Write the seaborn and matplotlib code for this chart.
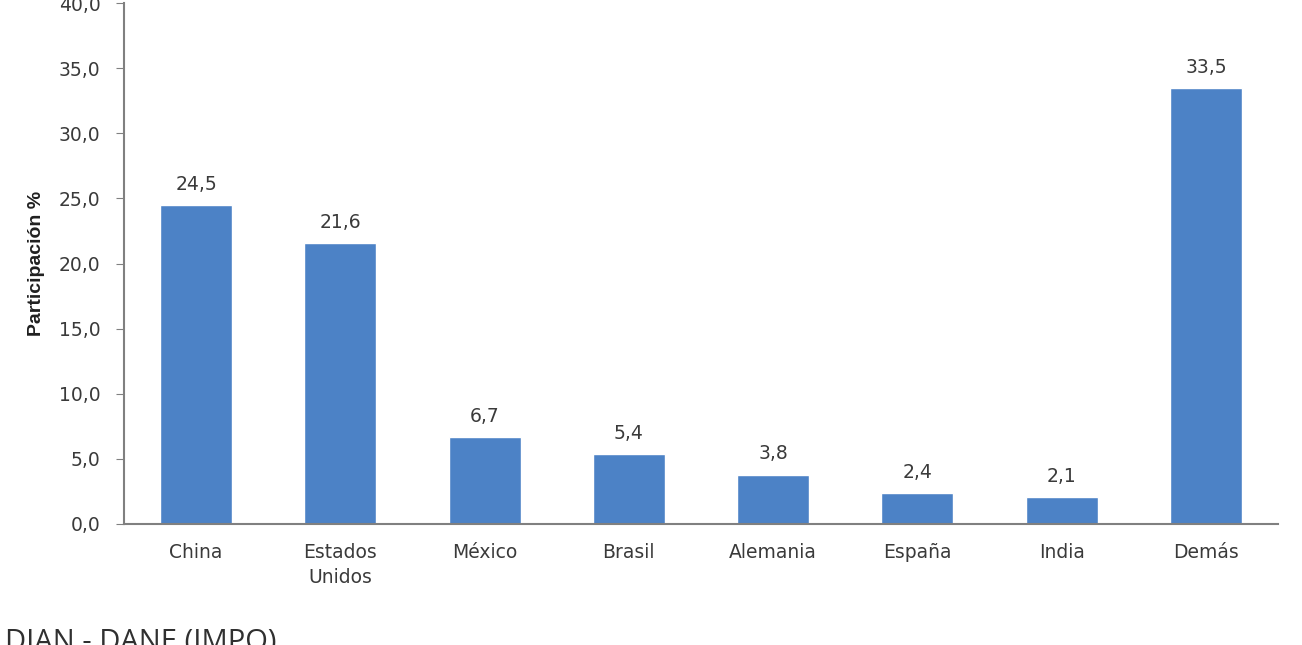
import matplotlib.pyplot as plt
import seaborn as sns
import pandas as pd
from matplotlib.ticker import FuncFormatter, FixedLocator

# Participación % de importaciones por país de origen
paises = ['China', 'Estados\nUnidos', 'México', 'Brasil', 'Alemania', 'España', 'India', 'Demás']
participacion = [24.5, 21.6, 6.7, 5.4, 3.8, 2.4, 2.1, 33.5]
fuente = 'DIAN - DANE (IMPO)'

sns.set_style('white')
plt.rcParams['font.family'] = ['DejaVu Sans']

df = pd.DataFrame({'pais': paises, 'valor': participacion})

fig = plt.figure(figsize=(13.02, 6.45), dpi=100)
ax = fig.add_axes([0.0952, 0.1876, 0.8864, 0.8077])

sns.barplot(data=df, x='pais', y='valor', color='#4C82C6', saturation=1,
            width=0.5, ax=ax)

# etiquetas de valor encima de cada barra
etiquetas = [f'{v:.1f}'.replace('.', ',') for v in participacion]
ax.bar_label(ax.containers[0], labels=etiquetas, padding=8, fontsize=13.5,
             color='#3a3a3a')

ax.set_ylim(0, 40)
ax.set_xlim(-0.5, len(paises) - 0.5)
ax.set_yticks(range(0, 41, 5))
ax.yaxis.set_major_formatter(FuncFormatter(lambda v, p: f'{v:.1f}'.replace('.', ',')))
ax.set_ylabel('Participación %', fontsize=14, fontweight='bold', color='#202020',
              labelpad=10, family=['Liberation Sans', 'DejaVu Sans'])
ax.set_xlabel('')

# marcas del eje x entre categorías
ax.xaxis.set_minor_locator(FixedLocator([i - 0.5 for i in range(len(paises) + 1)]))
ax.tick_params(axis='x', which='major', length=0, labelsize=13.5, labelcolor='#3a3a3a', pad=14)
ax.tick_params(axis='x', which='minor', length=5, color='#808080', direction='out')
ax.tick_params(axis='y', length=6, color='#808080', labelsize=13.5, labelcolor='#3a3a3a',
               direction='out', left=True, pad=11)
for lbl in ax.get_xticklabels():
    lbl.set_linespacing(1.35)

sns.despine(ax=ax)
for s in ['left', 'bottom']:
    ax.spines[s].set_color('#808080')
    ax.spines[s].set_linewidth(1.5)

fig.text(0.004, 1 - 628 / 645, fuente, fontsize=21, color='#303030', va='top',
         family=['Open Sans', 'DejaVu Sans'])

fig.savefig('out.png', dpi=100)
